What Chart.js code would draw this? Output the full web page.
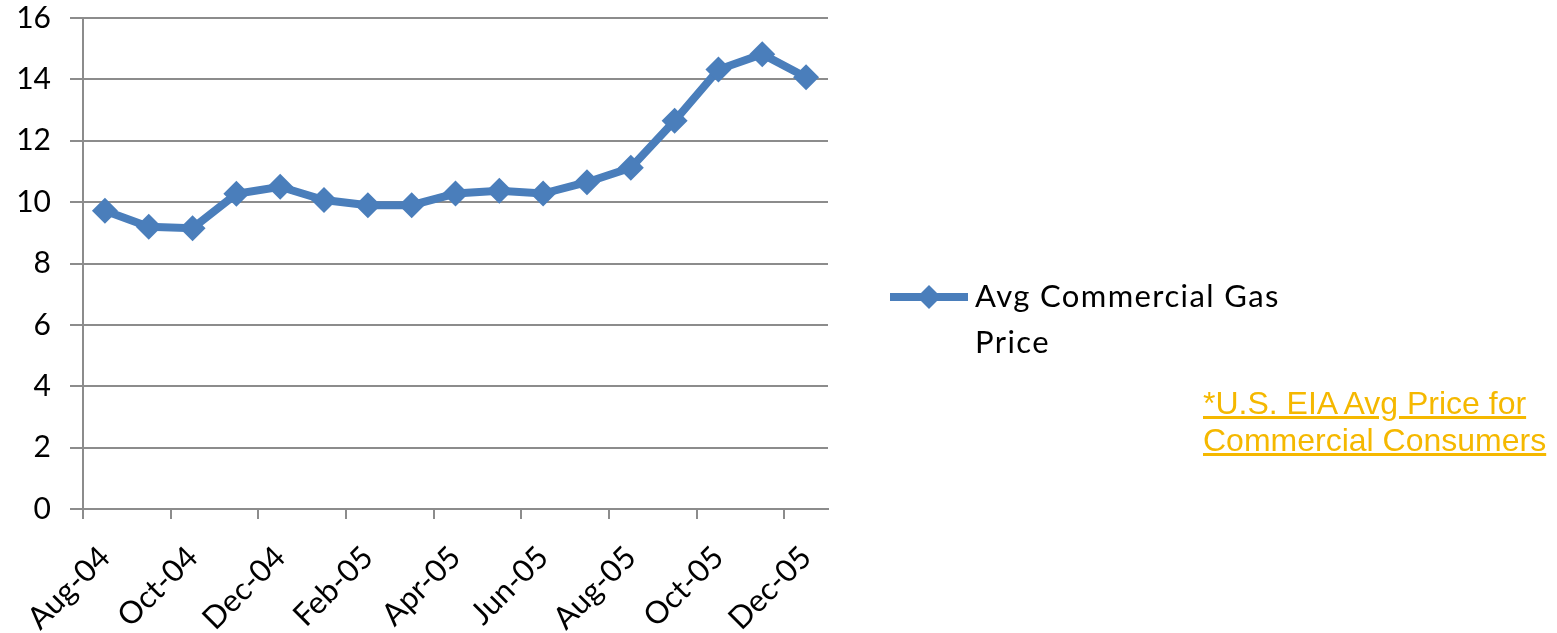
<!DOCTYPE html>
<html>
<head>
<meta charset="utf-8">
<script src="https://cdn.jsdelivr.net/npm/chart.js@4.4.1/dist/chart.umd.min.js"></script>
<style>
  html, body { margin: 0; padding: 0; background: #fff; }
  #wrap { position: relative; width: 1557px; height: 633px; }
  #note {
    position: absolute; left: 1203px; top: 385px;
    font-family: "Liberation Sans", Arial, sans-serif;
    font-size: 32px; line-height: 37px; color: #f5b800;
    text-decoration: underline;
  }
</style>
</head>
<body>
<div id="wrap">
  <canvas id="chart" width="1557" height="633"></canvas>
  <div id="note">*U.S. EIA Avg Price for<br>Commercial Consumers</div>
</div>
<script>
// dados
const months = ['Aug-04', 'Sep-04', 'Oct-04', 'Nov-04', 'Dec-04', 'Jan-05', 'Feb-05', 'Mar-05',
  'Apr-05', 'May-05', 'Jun-05', 'Jul-05', 'Aug-05', 'Sep-05', 'Oct-05', 'Nov-05', 'Dec-05'];
const prices = [9.72, 9.2, 9.15, 10.27, 10.5, 10.07, 9.9, 9.9,
  10.28, 10.37, 10.28, 10.65, 11.12, 12.65, 14.32, 14.82, 14.07];
const seriesName = ['Avg Commercial Gas', 'Price'];
const yMin = 0, yMax = 16, yStep = 2;

const blue = '#4a7ebb';
const gridGray = '#8c8c8c';
const fontFamily = 'Lato, "Open Sans", sans-serif';

// legenda desenhada à mão (texto em duas linhas)
const sideLegend = {
  id: 'sideLegend',
  afterDraw(chart) {
    const ctx = chart.ctx;
    const x0 = 890, x1 = 968, y = 297;
    ctx.save();
    ctx.strokeStyle = blue;
    ctx.lineWidth = 8;
    ctx.beginPath();
    ctx.moveTo(x0, y);
    ctx.lineTo(x1, y);
    ctx.stroke();
    ctx.fillStyle = blue;
    const cx = (x0 + x1) / 2, r = 12;
    ctx.beginPath();
    ctx.moveTo(cx, y - r);
    ctx.lineTo(cx + r, y);
    ctx.lineTo(cx, y + r);
    ctx.lineTo(cx - r, y);
    ctx.closePath();
    ctx.fill();
    ctx.fillStyle = '#000';
    ctx.font = '31px ' + fontFamily;
    ctx.letterSpacing = '1.4px';
    ctx.textBaseline = 'middle';
    ctx.textAlign = 'left';
    seriesName.forEach((t, i) => ctx.fillText(t, 975, y + i * 46));
    ctx.restore();
  }
};

new Chart(document.getElementById('chart'), {
  type: 'line',
  data: {
    labels: months,
    datasets: [{
      label: seriesName.join(' '),
      data: prices,
      borderColor: blue,
      backgroundColor: blue,
      borderWidth: 8,
      tension: 0,
      pointStyle: 'rectRot',
      pointRadius: 13,
      pointBorderWidth: 0,
      pointBackgroundColor: blue,
    }],
  },
  options: {
    responsive: false,
    animation: false,
    layout: { padding: { top: 0, right: 729, left: 0, bottom: 0 } },
    plugins: {
      legend: { display: false },
      tooltip: { enabled: false },
    },
    scales: {
      x: {
        offset: true,
        afterFit: s => { s.height = 124; },
        grid: {
          offset: true,
          drawOnChartArea: false,
          tickLength: 10,
          lineWidth: 2,
          color: c => (c.index !== undefined && c.index % 2 === 0) ? gridGray : 'rgba(0,0,0,0)',
        },
        border: { display: true, color: gridGray, width: 2 },
        ticks: {
          autoSkip: false,
          minRotation: 45,
          maxRotation: 45,
          padding: 20,
          color: '#000',
          font: { family: fontFamily, size: 31 },
          callback: (v, i) => (i % 2 === 0 ? months[i] : ''),
        },
      },
      y: {
        min: yMin,
        max: yMax,
        afterFit: s => { s.width = 83; s.paddingTop = 18; s.paddingBottom = 0; },
        grid: { color: gridGray, lineWidth: 2, tickLength: 13 },
        border: { display: true, color: gridGray, width: 2 },
        ticks: {
          stepSize: yStep,
          padding: 19,
          color: '#000',
          font: { family: fontFamily, size: 30 },
        },
      },
    },
  },
  plugins: [sideLegend],
});
</script>
</body>
</html>
